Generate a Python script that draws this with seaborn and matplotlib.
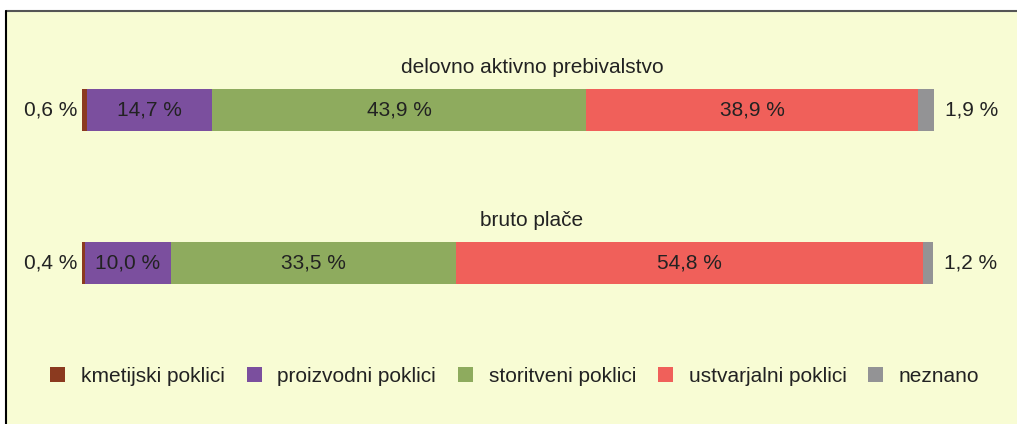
import numpy as np
import pandas as pd
import matplotlib
matplotlib.use("Agg")
import matplotlib.pyplot as plt
import seaborn as sns
from matplotlib.patches import Rectangle, Patch

# podatki
groups = ["delovno aktivno prebivalstvo", "bruto plače"]
categories = ["kmetijski poklici", "proizvodni poklici", "storitveni poklici",
              "ustvarjalni poklici", "neznano"]
values = {
    "delovno aktivno prebivalstvo": [0.6, 14.7, 43.9, 38.9, 1.9],
    "bruto plače": [0.4, 10.0, 33.5, 54.8, 1.2],
}
colors = ["#8B3A1F", "#7B4F9E", "#8EAB5E", "#F0605A", "#939395"]
bg = "#F8FCD4"
txt = "#222222"

sns.set_style("white")
plt.rcParams["font.family"] = ["Liberation Sans", "DejaVu Sans"]

fig = plt.figure(figsize=(10.17, 4.24), dpi=100, facecolor="white")
W, H = 1017, 424

# ozadje z robom
fig.patches.append(Rectangle((6 / W, 0), 1 - 6 / W, 1 - 11 / H, transform=fig.transFigure,
                             facecolor=bg, edgecolor="none", zorder=-5))
fig.lines.append(plt.Line2D([6 / W, 1], [1 - 11 / H, 1 - 11 / H], transform=fig.transFigure,
                            color="#555555", lw=1.5, zorder=-4))
fig.lines.append(plt.Line2D([6 / W, 6 / W], [0, 1 - 11 / H], transform=fig.transFigure,
                            color="black", lw=1.5, zorder=-4))

ax = fig.add_axes([0, 0, 1, 1])
ax.set_facecolor("none")
ax.set_zorder(1)

# stacked bars: cumulative sums drawn from the longest to the shortest
df = pd.DataFrame(values, index=categories).T
cum = df.cumsum(axis=1)
for i in range(len(categories) - 1, -1, -1):
    c = categories[i]
    sns.barplot(x=cum[c].values, y=groups, orient="h", color=colors[i],
                width=0.275, linewidth=0, saturation=1, ax=ax)

px = 8.52  # pixels per percent
ax.set_xlim(-82 / px, (W - 82) / px)
ax.set_ylim((H - 110) / 153, -110 / 153)
ax.axis("off")

for gi, g in enumerate(groups):
    vals = df.loc[g].values
    left = np.concatenate([[0], np.cumsum(vals)[:-1]])
    ax.text(52.8, gi - 0.275, g, ha="center", va="center", fontsize=15, color=txt)
    for j in range(1, 4):
        ax.text(left[j] + vals[j] / 2, gi, f"{vals[j]:.1f} %".replace(".", ","),
                ha="center", va="center", fontsize=15, color=txt)
    ax.text(-0.5, gi, f"{vals[0]:.1f} %".replace(".", ","), ha="right", va="center",
            fontsize=15, color=txt)
    ax.text(vals.sum() + 1.3, gi, f"{vals[-1]:.1f} %".replace(".", ","), ha="left",
            va="center", fontsize=15, color=txt)

handles = [Patch(facecolor=c, edgecolor="none") for c in colors]
leg = fig.legend(handles, categories, loc="center", bbox_to_anchor=(515 / W, 1 - 376 / H),
                 ncol=5, frameon=False, fontsize=15, handlelength=0.72, handleheight=0.72,
                 handletextpad=0.75, columnspacing=1.05, labelcolor=txt)
leg.set_zorder(2)

fig.savefig("out.png", dpi=100, facecolor="white")
